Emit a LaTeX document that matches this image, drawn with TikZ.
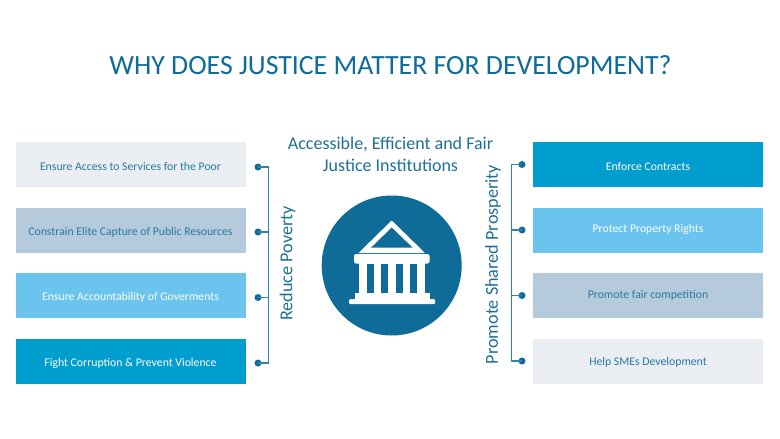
\documentclass[tikz,border=0pt]{standalone}
\usepackage{fontspec}
\setmainfont{Carlito}
\definecolor{inkdark}{HTML}{0F6C99}
\definecolor{inktext}{HTML}{1F7099}
\definecolor{itemtext}{HTML}{2579A3}
\definecolor{boxgrey}{HTML}{EAEDF2}
\definecolor{boxslate}{HTML}{B5CBDB}
\definecolor{boxsky}{HTML}{6AC4EE}
\definecolor{boxblue}{HTML}{009DCF}
% text whose baseline lies #1 below the centre of its box
\newcommand{\lowered}[2]{\smash{\raisebox{-#1}{#2}}}
\tikzset{
  itembox/.style={draw=none,minimum width=230pt,minimum height=45pt,inner sep=0pt,anchor=center,font=\fontsize{11.75}{14}\selectfont,text=itemtext},
  lighttext/.style={text=white},
  dotnode/.style={circle,fill=inkdark,minimum size=7pt,inner sep=0pt},
  bracket/.style={draw=inkdark!85!white,line width=1.3pt},
  sidelabel/.style={rotate=90,font=\fontsize{18.2}{22}\selectfont,text=inktext},
  headtext/.style={font=\fontsize{18}{22}\selectfont,text=inktext,align=center}
}
\begin{document}
\begin{tikzpicture}[x=1pt,y=-1pt]
\useasboundingbox[fill=white] (0,0) rectangle (780,439);
\node[font=\fontsize{27.8}{32}\selectfont,text=inkdark] (title) at (390.5,65) {WHY DOES JUSTICE MATTER FOR DEVELOPMENT?};
\node[headtext] (head) at (390.5,154.5) {Accessible, Efficient and Fair\\Justice Institutions};
% left boxes
\node[itembox,fill=boxgrey] (l1) at (130.5,164.5) {\lowered{5.5pt}{Ensure Access to Services for the Poor}};
\node[itembox,fill=boxslate] (l2) at (130.5,230) {\lowered{5pt}{Constrain Elite Capture of Public Resources}};
\node[itembox,fill=boxsky,lighttext] (l3) at (130.5,295.5) {\lowered{4.5pt}{Ensure Accountability of Goverments}};
\node[itembox,fill=boxblue,lighttext] (l4) at (130.5,361.5) {\lowered{5pt}{Fight Corruption \& Prevent Violence}};
% right boxes
\node[itembox,fill=boxblue,lighttext] (r1) at (648,164.5) {\lowered{5.5pt}{Enforce Contracts}};
\node[itembox,fill=boxsky,lighttext] (r2) at (648,230) {\lowered{2.5pt}{Protect Property Rights}};
\node[itembox,fill=boxslate] (r3) at (648,295.5) {\lowered{2.5pt}{Promote fair competition}};
\node[itembox,fill=boxgrey] (r4) at (648,361.5) {\lowered{3.5pt}{Help SMEs Development}};
% left bracket
\node[dotnode] (ld1) at (258,167) {};
\node[dotnode] (ld2) at (258,232) {};
\node[dotnode] (ld3) at (258,297.5) {};
\node[dotnode] (ld4) at (258,363) {};
\coordinate (lb) at (268.5,0);
\draw[bracket] (ld1.center) -- (ld1.center -| lb) -- (ld4.center -| lb) -- (ld4.center);
\draw[bracket] (ld2.center) -- (ld2.center -| lb);
\draw[bracket] (ld3.center) -- (ld3.center -| lb);
% right bracket
\node[dotnode] (rd1) at (522,164.5) {};
\node[dotnode] (rd2) at (522,230) {};
\node[dotnode] (rd3) at (522,295.5) {};
\node[dotnode] (rd4) at (522,361) {};
\coordinate (rb) at (511.5,0);
\draw[bracket] (rd1.center) -- (rd1.center -| rb) -- (rd4.center -| rb) -- (rd4.center);
\draw[bracket] (rd2.center) -- (rd2.center -| rb);
\draw[bracket] (rd3.center) -- (rd3.center -| rb);
\node[sidelabel] (reduce) at (287.5,263.5) {Reduce Poverty};
\node[sidelabel] (promote) at (493,264.5) {Promote Shared Prosperity};
% emblem
\fill[inkdark] (391.7,265.5) circle (70);
\fill[white,rounded corners=0.6pt] (391.7,220.5) -- (425,253) -- (358.5,253) -- cycle;
\fill[inkdark] (391.7,227.5) -- (412.7,247.7) -- (371,247.7) -- cycle;
\fill[white,rounded corners=2pt] (354,254) rectangle (429.5,263.5);
\fill[white] (359.3,262) rectangle (425,294);
\foreach \a in {366.7,381.2,395.8,410.4}
  \fill[inkdark] (\a,263.5) rectangle (\a+7,293.3);
\fill[white] (354.5,293.3) rectangle (429.5,298.5);
\fill[white,rounded corners=1pt] (349.2,299.2) rectangle (435,304);
\end{tikzpicture}
\end{document}
